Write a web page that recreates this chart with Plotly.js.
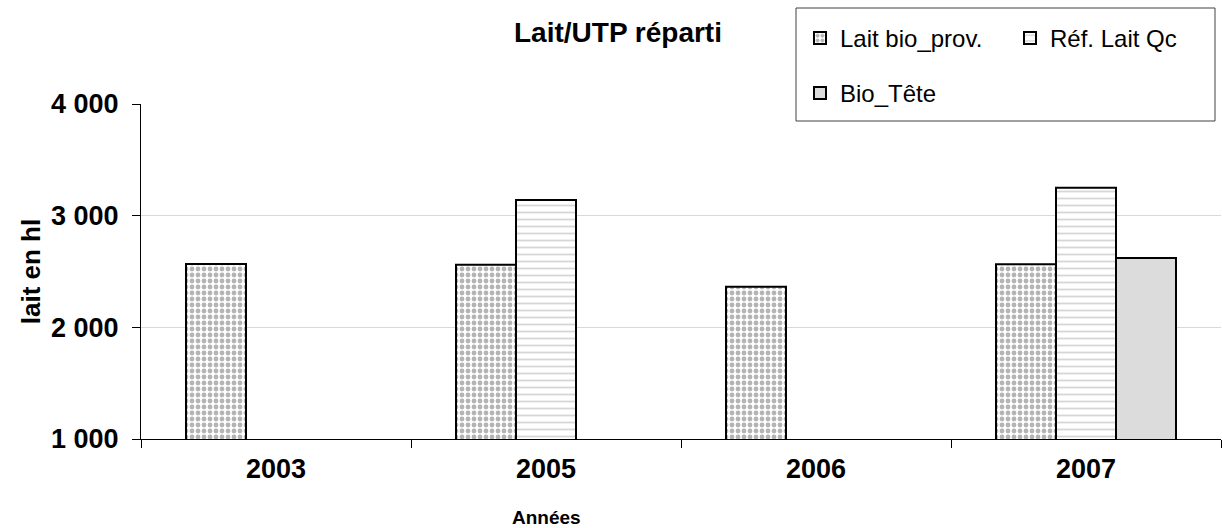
<!DOCTYPE html>
<html>
<head>
<meta charset="utf-8">
<script src="https://cdn.plot.ly/plotly-3.0.1.min.js"></script>
<style>html,body{margin:0;padding:0;background:#fff;}#chart{width:1222px;height:528px;}</style>
</head>
<body>
<div id="chart"></div>
<script>
var years = ["2003", "2005", "2006", "2007"];
var laitBio = [2567, 2560, 2364, 2565];
var refLaitQc = [null, 3140, null, 3250];
var bioTete = [null, null, null, 2621];
var seriesNames = ["Lait bio_prov.", "Réf. Lait Qc", "Bio_Tête"];
var yTicks = [1000, 2000, 3000, 4000];

var FONT = "Liberation Sans, Arial, sans-serif";
var W = 1222, H = 528;
var L = 141, R = 1, T = 104, B = 89;
var pw = W - L - R, ph = H - T - B;
function px(x) { return (x - L) / pw; }
function py(y) { return (H - B - y) / ph; }

var outline = {color: "#000", width: 2};
var traces = [
  {type: "bar", x: years, y: laitBio, name: seriesNames[0], legend: "legend",
   marker: {color: "#ffffff", line: outline,
            pattern: {shape: ".", fgcolor: "#b4b4b4", bgcolor: "#ffffff", size: 6, solidity: 0.5}}},
  {type: "bar", x: years, y: refLaitQc, name: seriesNames[1], legend: "legend2",
   marker: {color: "#ffffff", line: outline,
            pattern: {shape: "-", fgcolor: "#d6d6d6", bgcolor: "#ffffff", size: 7, solidity: 0.25}}},
  {type: "bar", x: years, y: bioTete, name: seriesNames[2], legend: "legend3",
   marker: {color: "#dcdcdc", line: outline}}
];

function legendAt(xLeft, yTop) {
  return {orientation: "v", xref: "paper", yref: "paper", x: px(xLeft), y: py(yTop),
          xanchor: "left", yanchor: "top", bgcolor: "rgba(0,0,0,0)", borderwidth: 0,
          font: {family: FONT, size: 24, color: "#000"}, itemclick: false, itemdoubleclick: false};
}

var layout = {
  width: W, height: H,
  margin: {l: L, r: R, t: T, b: B},
  paper_bgcolor: "#fff", plot_bgcolor: "#fff",
  barmode: "group", bargap: 1/3, bargroupgap: 0,
  separators: ", ",
  font: {family: FONT, color: "#000"},
  title: {text: "Lait/UTP réparti", font: {family: FONT, size: 28, weight: "bold", color: "#000"},
          xref: "paper", x: px(618), xanchor: "center", yref: "container", y: 1 - 32/H, yanchor: "middle"},
  xaxis: {type: "category", showline: true, linecolor: "#000", linewidth: 1,
          ticks: "outside", tickson: "boundaries", ticklen: 8, tickcolor: "#000",
          tickfont: {family: FONT, size: 27, weight: "bold"}, ticklabelstandoff: 6,
          showgrid: false, zeroline: false},
  yaxis: {range: [1000, 4000], tickvals: yTicks, tickformat: ",d",
          showline: true, linecolor: "#000", linewidth: 1,
          ticks: "outside", ticklen: 8, tickcolor: "#000",
          tickfont: {family: FONT, size: 27, weight: "bold"}, ticklabelstandoff: 8,
          showgrid: true, gridcolor: "#d9d9d9", gridwidth: 1, zeroline: false,
          title: {text: "lait en hl", font: {family: FONT, size: 26, weight: "bold"}, standoff: 2}},
  annotations: [{text: "Années", xref: "paper", yref: "paper", x: px(546), y: py(517),
                 xanchor: "center", yanchor: "middle", showarrow: false,
                 font: {family: FONT, size: 19, weight: "bold", color: "#000"}}],
  showlegend: true,
  legend: legendAt(800, 16),
  legend2: legendAt(1010, 16),
  legend3: legendAt(800, 71),
  shapes: [{type: "rect", xref: "paper", yref: "paper", x0: px(796), x1: px(1215), y0: py(8), y1: py(121),
            fillcolor: "#ffffff", line: {color: "#404040", width: 1}, layer: "above"}]
};

Plotly.newPlot("chart", traces, layout, {displayModeBar: false, staticPlot: true});
</script>
</body>
</html>
